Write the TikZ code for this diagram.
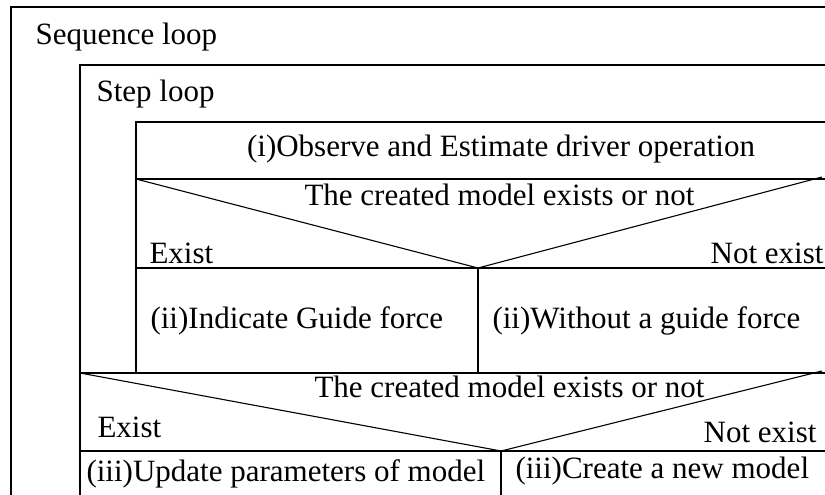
\documentclass[tikz,border=0pt]{standalone}
\usepackage{fontspec}
\setmainfont{Liberation Serif}
\newcommand{\rightEdge}{825}
\newcommand{\cornerX}{822}
\newcommand{\chartFont}{\fontsize{31}{37}\selectfont}

\begin{document}
\begin{tikzpicture}[x=1pt, y=-1pt, line width=1.1pt,
  every node/.style={inner sep=0pt, font=\chartFont}]
\useasboundingbox (0,0) rectangle (825,495);

% loop frames
\draw (\rightEdge,7) -| (11,495);
\draw (\rightEdge,65) -| (80,495);
\draw (\rightEdge,122) -| (136,373);
\node (seqlabel) [anchor=base west] at (35,45) {Sequence loop};
\node (steplabel) [anchor=base west] at (96,102) {Step loop};

% step loop body
\draw (136,179) -- (\rightEdge,179);
\node (observe) [anchor=base] at (501,156) {(i)Observe and Estimate driver operation};
\coordinate (apexA) at (478,268);
\draw (136,179) -- (apexA) -- (\cornerX,177);
\draw (136,268) -- (\rightEdge,268);
\draw (apexA) -- (478,373);
\node (condA) [anchor=base east] at (695,205) {The created model exists or not};
\node (existA) [anchor=base west] at (149,263) {Exist};
\node (notexistA) [anchor=base east] at (824,263) {Not exist};
\node (guide) [anchor=base west] at (150,328) {(ii)Indicate Guide force};
\node (noguide) [anchor=base west] at (492,328) {(ii)Without a guide force};

% sequence loop body
\draw (80,373) -- (\rightEdge,373);
\coordinate (apexB) at (501,451);
\draw (80,373) -- (apexB) -- (\cornerX,371);
\draw (80,451) -- (\rightEdge,451);
\draw (apexB) -- (501,495);
\node (condB) [anchor=base east] at (705,397) {The created model exists or not};
\node (existB) [anchor=base west] at (97,437) {Exist};
\node (notexistB) [anchor=base east] at (817,442) {Not exist};
\node (update) [anchor=base west] at (86,481) {(iii)Update parameters of model};
\node (create) [anchor=base west] at (515,478) {(iii)Create a new model};
\end{tikzpicture}
\end{document}
